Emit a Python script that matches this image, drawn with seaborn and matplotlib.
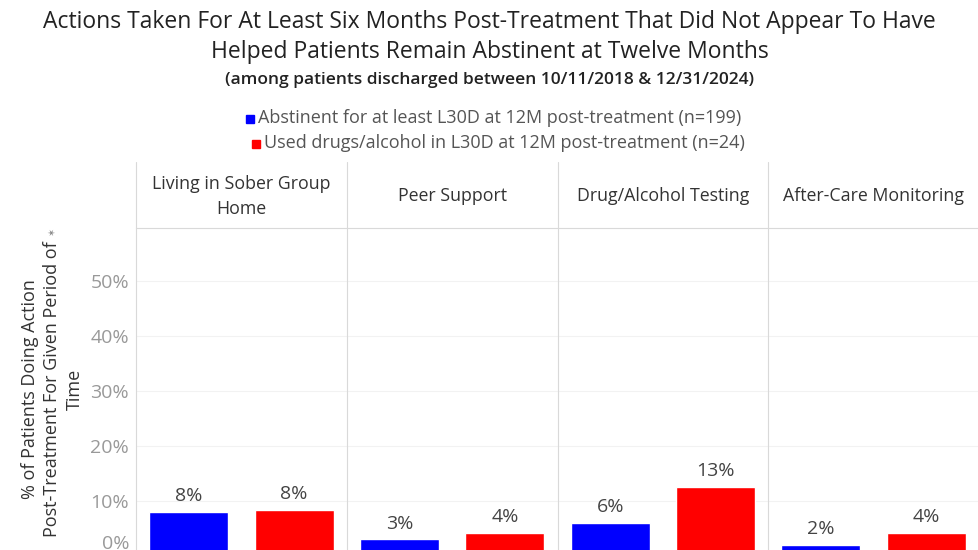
import pandas as pd
import matplotlib.pyplot as plt
import matplotlib.transforms as mtrans
import seaborn as sns

# data
actions = ["Living in Sober Group\nHome", "Peer Support", "Drug/Alcohol Testing", "After-Care Monitoring"]
series = ["Abstinent for at least L30D at 12M post-treatment (n=199)",
          "Used drugs/alcohol in L30D at 12M post-treatment (n=24)"]
abstinent = [8.0, 3.0, 6.0, 2.0]
used = [8.3, 4.2, 12.5, 4.2]
labels_abst = ["8%", "3%", "6%", "2%"]
labels_used = ["8%", "4%", "13%", "4%"]
yticks = [0, 10, 20, 30, 40, 50]
colors = {series[0]: "#0000ff", series[1]: "#ff0000"}

rows = []
for i, a in enumerate(actions):
    rows.append({"action": a, "group": series[0], "pct": abstinent[i]})
    rows.append({"action": a, "group": series[1], "pct": used[i]})
df = pd.DataFrame(rows)

sns.set_style("white")
plt.rcParams["font.family"] = ["Open Sans", "DejaVu Sans"]

W, H = 979, 550
fig = plt.figure(figsize=(W / 100, H / 100), dpi=100)

left, right = 136, 979
top, zero = 228, 556
pw = (right - left) / 4

for i, a in enumerate(actions):
    x0 = left + i * pw
    ax = fig.add_axes([x0 / W, 1 - zero / H, pw / W, (zero - top) / H])
    sub = df[df["action"] == a]
    sns.barplot(data=sub, x="group", y="pct", hue="group", palette=colors,
                order=series, width=0.75, saturation=1, legend=False, ax=ax)
    ax.set_ylim(0, 59.6)
    ax.set_xlim(-0.5, 1.5)
    ax.set_yticks(yticks)
    ax.yaxis.grid(True, color="#f2f2f2", lw=0.8)
    ax.set_axisbelow(True)
    ax.set_xlabel("")
    ax.set_ylabel("")
    ax.set_xticks([])
    for s in ["top", "right", "bottom"]:
        ax.spines[s].set_visible(False)
    ax.spines["left"].set_color("#d9d9d9")
    ax.spines["left"].set_linewidth(0.8)
    ax.tick_params(axis="y", length=0)
    if i == 0:
        ax.set_yticklabels([f"{t}%" for t in yticks], color="#999999", fontsize=14)
        ax.tick_params(axis="y", pad=5)
        # tableau pushes the bottom label up so it stays inside the pane
        lab0 = ax.get_yticklabels()[0]
        lab0.set_transform(lab0.get_transform() + mtrans.ScaledTranslation(0, 14 / 100, fig.dpi_scale_trans))
    else:
        ax.set_yticklabels([])
    for p, v, t in zip(ax.patches, [abstinent[i], used[i]], [labels_abst[i], labels_used[i]]):
        ax.annotate(t, (p.get_x() + p.get_width() / 2, v), xytext=(0, 5),
                    textcoords="offset points", ha="center", va="bottom",
                    fontsize=14, color="#444444")

    # header cell
    fig.text((x0 + pw / 2) / W, 1 - 196 / H, a, ha="center", va="center",
             fontsize=12.8, color="#333333", linespacing=1.5)
    fig.add_artist(plt.Line2D([x0 / W, x0 / W], [1 - 162 / H, 1 - top / H],
                              color="#d9d9d9", lw=0.8))

fig.add_artist(plt.Line2D([left / W, 1], [1 - top / H, 1 - top / H], color="#d9d9d9", lw=0.8))

# titles
fig.text(0.5, 1 - 22 / H, "Actions Taken For At Least Six Months Post-Treatment That Did Not Appear To Have",
         ha="center", va="center", fontsize=16.5, color="#222222")
fig.text(0.5, 1 - 52 / H, "Helped Patients Remain Abstinent at Twelve Months",
         ha="center", va="center", fontsize=16.5, color="#222222")
fig.text(0.5, 1 - 80 / H, "(among patients discharged between 10/11/2018 & 12/31/2024)",
         ha="center", va="center", fontsize=12.5, color="#222222", fontweight="semibold")

# legend
for s, yy, xs in zip(series, [118, 143], [250, 256]):
    fig.add_artist(plt.Line2D([xs / W], [1 - (yy + 1) / H], marker="s", markersize=5.5,
                              color=colors[s], lw=0))
    fig.text((xs + 8) / W, 1 - yy / H, s, ha="left", va="center",
             fontsize=13, color="#555555")

# y axis label (three wrapped lines, centered on the pane)
ymid = 1 - 389 / H
fig.text(30 / W, ymid, "% of Patients Doing Action", rotation=90,
         ha="center", va="center", fontsize=13, color="#333333")
fig.text(52 / W, ymid, "Post-Treatment For Given Period of", rotation=90,
         ha="center", va="center", fontsize=13, color="#333333")
fig.text(52 / W, 1 - 232 / H, "\u2736", rotation=90,
         ha="center", va="center", fontsize=7, color="#888888")
fig.text(75 / W, ymid, "Time", rotation=90,
         ha="center", va="center", fontsize=13, color="#333333")

fig.savefig("out.png", dpi=100)
